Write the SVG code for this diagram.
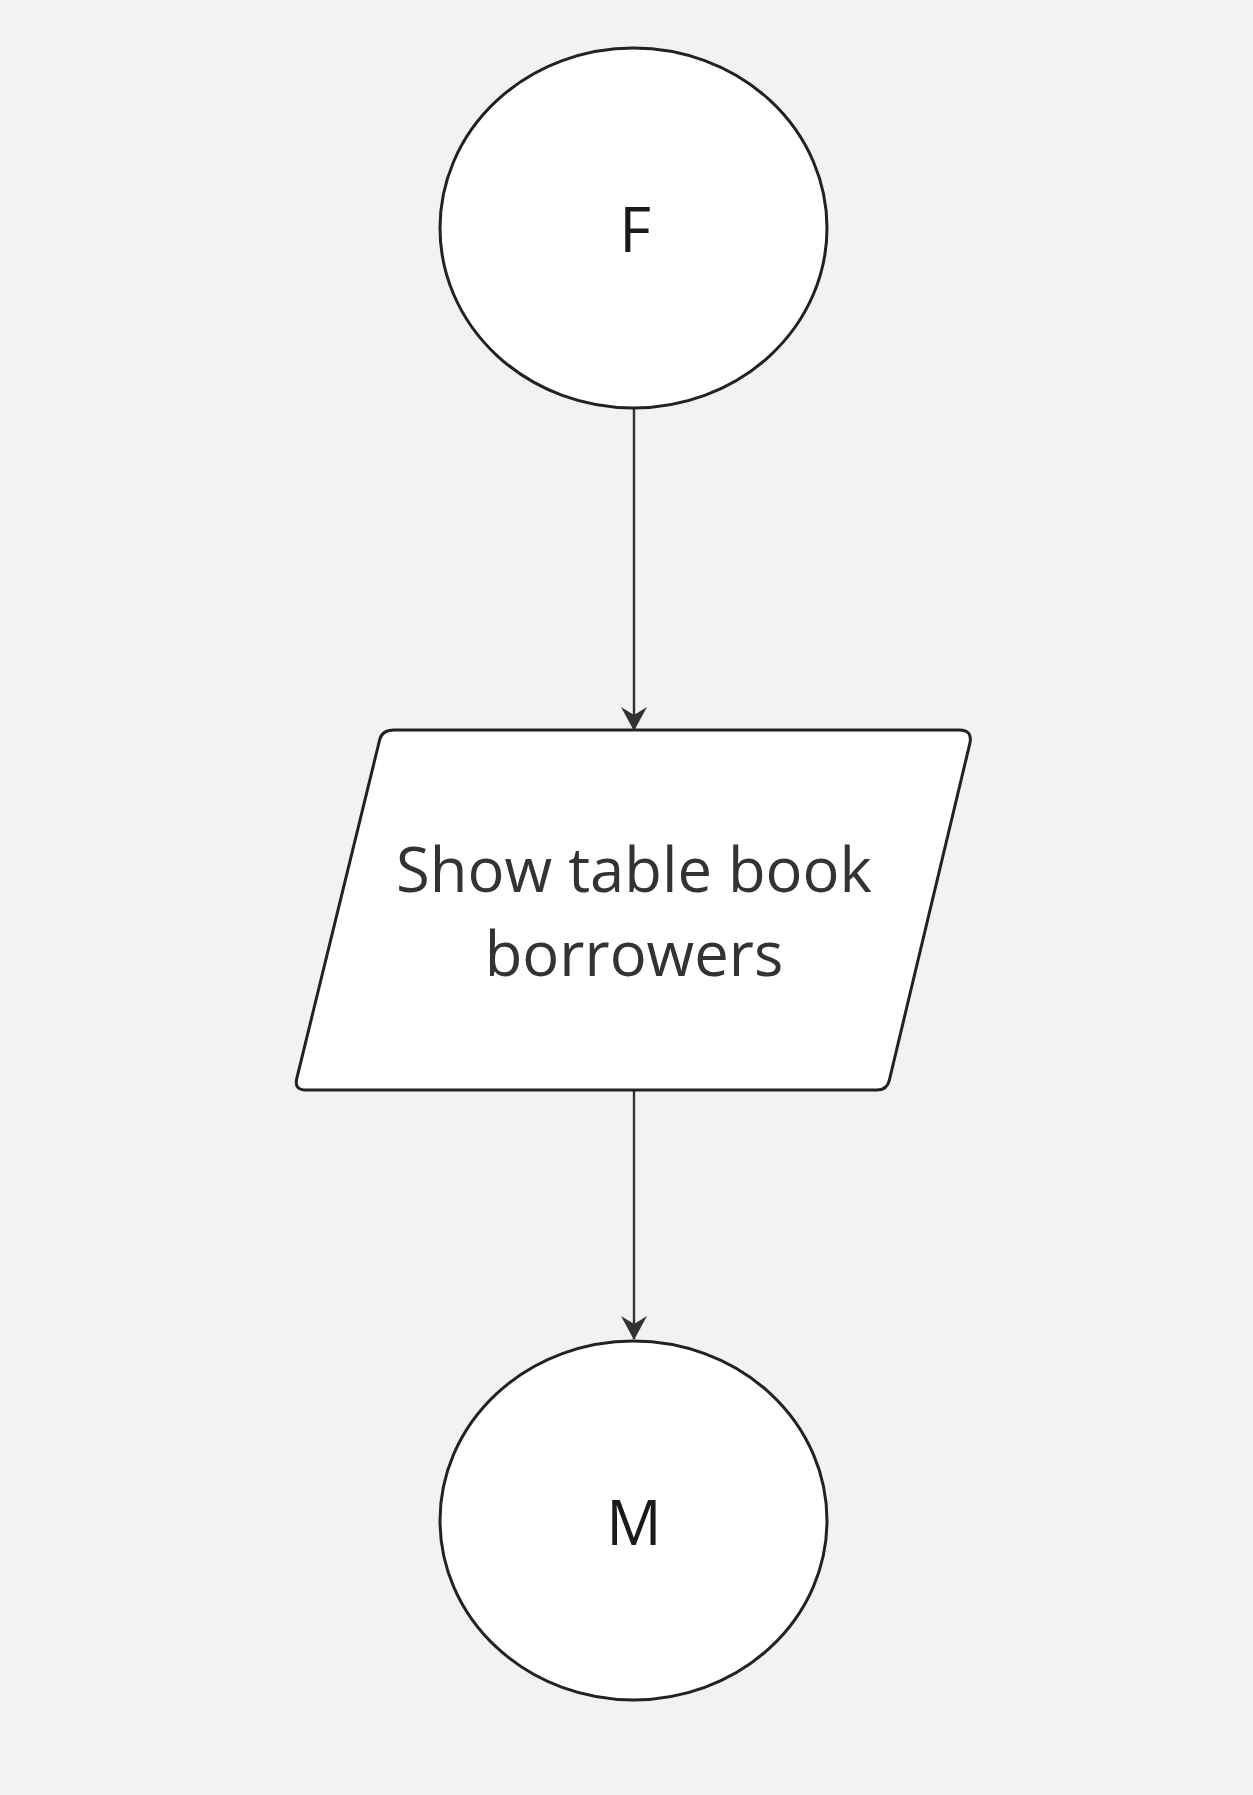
<svg xmlns="http://www.w3.org/2000/svg" width="1253" height="1795" viewBox="0 0 1253 1795">
<style>
.shape{fill:#ffffff;stroke:#222222;stroke-width:3}
.edge{fill:none;stroke:#333333;stroke-width:2.4}
.lbl{font-family:"Open Sans","Noto Sans","DejaVu Sans",sans-serif;font-size:61.5px;text-anchor:middle}
</style>
<defs>
<marker id="arr" viewBox="0 0 24 26" refX="23" refY="13" markerWidth="24" markerHeight="26" markerUnits="userSpaceOnUse" orient="auto">
<path d="M0,0 L24,13 L0,26 L8,13 Z" fill="#333333"/>
</marker>
</defs>
<rect width="1253" height="1795" fill="#f2f2f2"/>
<g id="connectors">
<line class="edge" x1="634" y1="409" x2="634" y2="730" marker-end="url(#arr)"/>
<line class="edge" x1="634" y1="1091" x2="634" y2="1339" marker-end="url(#arr)"/>
</g>
<g id="node-F">
<ellipse class="shape" cx="633.5" cy="228" rx="193.5" ry="180"/>
<text class="lbl" x="635" y="252" fill="#1a1a1a">F</text>
</g>
<g id="node-show">
<path class="shape" d="M394,730 L959,730 Q973,730 969.8,743.6 L889.3,1080.3 Q887,1090 877,1090 L306,1090 Q294,1090 296.8,1078.4 L379.7,739.7 Q382,730 394,730 Z"/>
<text class="lbl" x="634" y="892" fill="#333333">Show table book</text>
<text class="lbl" x="634" y="976" fill="#333333">borrowers</text>
</g>
<g id="node-M">
<ellipse class="shape" cx="633.5" cy="1520.5" rx="193.5" ry="179.5"/>
<text class="lbl" x="634" y="1545" fill="#1a1a1a">M</text>
</g>
</svg>
